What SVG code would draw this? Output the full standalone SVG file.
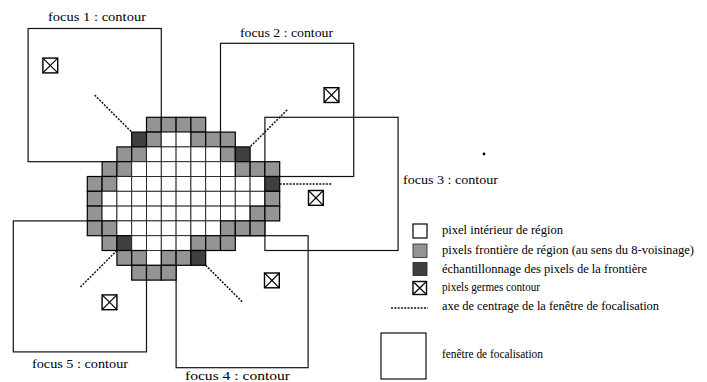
<svg xmlns="http://www.w3.org/2000/svg" xmlns:xlink="http://www.w3.org/1999/xlink" width="707" height="382" viewBox="0 0 707 382">
<style>
  .win{fill:none;stroke:#111;stroke-width:1.2}
  .w{fill:#fff;stroke:#222;stroke-width:0.9}
  .g{fill:#949494;stroke:#000;stroke-width:1.2}
  .d{fill:#404040;stroke:#000;stroke-width:1.2}
  .axis{fill:none;stroke:#111;stroke-width:1.5;stroke-dasharray:2 1.3}
  .lbl{font-family:"Liberation Serif","Times New Roman",serif;font-size:13px;fill:#000}
  .leg{font-family:"Liberation Serif","Times New Roman",serif;font-size:12px;fill:#000}
  .seedbox{fill:#fff;stroke:#000;stroke-width:1.4}
  .seedx{stroke:#000;stroke-width:1.2}
</style>
<defs>
  <rect id="cw" class="w" width="14.8" height="14.8"/>
  <rect id="cg" class="g" width="14.8" height="14.8"/>
  <rect id="cd" class="d" width="14.8" height="14.8"/>
  <g id="seed">
    <rect class="seedbox" x="0" y="0" width="14.8" height="14.8"/>
    <path class="seedx" d="M0,0L14.8,14.8M14.8,0L0,14.8"/>
  </g>
</defs>
<rect width="707" height="382" fill="#fff"/>

<g id="focus1">
  <rect class="win" x="28.1" y="28.5" width="133.2" height="133.2"/>
  <use xlink:href="#seed" x="42.9" y="58.1"/>
  <text class="lbl" x="48" y="21" textLength="98" lengthAdjust="spacingAndGlyphs">focus 1 : contour</text>
</g>
<g id="focus2">
  <rect class="win" x="220.5" y="43.3" width="133.2" height="133.2"/>
  <use xlink:href="#seed" x="324.1" y="87.7"/>
  <text class="lbl" x="240" y="37" textLength="93" lengthAdjust="spacingAndGlyphs">focus 2 : contour</text>
</g>
<g id="focus3">
  <rect class="win" x="264.9" y="117.3" width="133.2" height="133.2"/>
  <use xlink:href="#seed" x="308.5" y="190.5"/>
  <text class="lbl" x="403" y="184" textLength="95" lengthAdjust="spacingAndGlyphs">focus 3 : contour</text>
</g>
<g id="focus4">
  <rect class="win" x="176.1" y="235.7" width="132" height="132"/>
  <use xlink:href="#seed" x="264.5" y="273"/>
  <text class="lbl" x="185" y="380" textLength="105" lengthAdjust="spacingAndGlyphs">focus 4 : contour</text>
</g>
<g id="focus5">
  <rect class="win" x="13.3" y="220.9" width="133.2" height="131"/>
  <use xlink:href="#seed" x="102.1" y="294.9"/>
  <text class="lbl" x="32" y="368" textLength="96" lengthAdjust="spacingAndGlyphs">focus 5 : contour</text>
</g>

<g id="region">
  <!-- row 0 -->
  <use xlink:href="#cg" x="146.5" y="117.3"/><use xlink:href="#cg" x="161.3" y="117.3"/><use xlink:href="#cg" x="176.1" y="117.3"/><use xlink:href="#cg" x="190.9" y="117.3"/>
  <!-- row 1 -->
  <use xlink:href="#cd" x="131.7" y="132.1"/><use xlink:href="#cg" x="146.5" y="132.1"/><use xlink:href="#cw" x="161.3" y="132.1"/><use xlink:href="#cw" x="176.1" y="132.1"/><use xlink:href="#cg" x="190.9" y="132.1"/><use xlink:href="#cg" x="205.7" y="132.1"/><use xlink:href="#cg" x="220.5" y="132.1"/>
  <!-- row 2 -->
  <use xlink:href="#cg" x="116.9" y="146.9"/><use xlink:href="#cg" x="131.7" y="146.9"/><use xlink:href="#cw" x="146.5" y="146.9"/><use xlink:href="#cw" x="161.3" y="146.9"/><use xlink:href="#cw" x="176.1" y="146.9"/><use xlink:href="#cw" x="190.9" y="146.9"/><use xlink:href="#cw" x="205.7" y="146.9"/><use xlink:href="#cg" x="220.5" y="146.9"/><use xlink:href="#cd" x="235.3" y="146.9"/>
  <!-- row 3 -->
  <use xlink:href="#cg" x="102.1" y="161.7"/><use xlink:href="#cg" x="116.9" y="161.7"/><use xlink:href="#cw" x="131.7" y="161.7"/><use xlink:href="#cw" x="146.5" y="161.7"/><use xlink:href="#cw" x="161.3" y="161.7"/><use xlink:href="#cw" x="176.1" y="161.7"/><use xlink:href="#cw" x="190.9" y="161.7"/><use xlink:href="#cw" x="205.7" y="161.7"/><use xlink:href="#cw" x="220.5" y="161.7"/><use xlink:href="#cg" x="235.3" y="161.7"/><use xlink:href="#cg" x="250.1" y="161.7"/><use xlink:href="#cg" x="264.9" y="161.7"/>
  <!-- row 4 -->
  <use xlink:href="#cg" x="87.3" y="176.5"/><use xlink:href="#cg" x="102.1" y="176.5"/><use xlink:href="#cw" x="116.9" y="176.5"/><use xlink:href="#cw" x="131.7" y="176.5"/><use xlink:href="#cw" x="146.5" y="176.5"/><use xlink:href="#cw" x="161.3" y="176.5"/><use xlink:href="#cw" x="176.1" y="176.5"/><use xlink:href="#cw" x="190.9" y="176.5"/><use xlink:href="#cw" x="205.7" y="176.5"/><use xlink:href="#cw" x="220.5" y="176.5"/><use xlink:href="#cw" x="235.3" y="176.5"/><use xlink:href="#cw" x="250.1" y="176.5"/><use xlink:href="#cd" x="264.9" y="176.5"/>
  <!-- row 5 -->
  <use xlink:href="#cg" x="87.3" y="191.3"/><use xlink:href="#cw" x="102.1" y="191.3"/><use xlink:href="#cw" x="116.9" y="191.3"/><use xlink:href="#cw" x="131.7" y="191.3"/><use xlink:href="#cw" x="146.5" y="191.3"/><use xlink:href="#cw" x="161.3" y="191.3"/><use xlink:href="#cw" x="176.1" y="191.3"/><use xlink:href="#cw" x="190.9" y="191.3"/><use xlink:href="#cw" x="205.7" y="191.3"/><use xlink:href="#cw" x="220.5" y="191.3"/><use xlink:href="#cw" x="235.3" y="191.3"/><use xlink:href="#cw" x="250.1" y="191.3"/><use xlink:href="#cg" x="264.9" y="191.3"/>
  <!-- row 6 -->
  <use xlink:href="#cg" x="87.3" y="206.1"/><use xlink:href="#cw" x="102.1" y="206.1"/><use xlink:href="#cw" x="116.9" y="206.1"/><use xlink:href="#cw" x="131.7" y="206.1"/><use xlink:href="#cw" x="146.5" y="206.1"/><use xlink:href="#cw" x="161.3" y="206.1"/><use xlink:href="#cw" x="176.1" y="206.1"/><use xlink:href="#cw" x="190.9" y="206.1"/><use xlink:href="#cw" x="205.7" y="206.1"/><use xlink:href="#cw" x="220.5" y="206.1"/><use xlink:href="#cw" x="235.3" y="206.1"/><use xlink:href="#cg" x="250.1" y="206.1"/><use xlink:href="#cg" x="264.9" y="206.1"/>
  <!-- row 7 -->
  <use xlink:href="#cg" x="87.3" y="220.9"/><use xlink:href="#cg" x="102.1" y="220.9"/><use xlink:href="#cw" x="116.9" y="220.9"/><use xlink:href="#cw" x="131.7" y="220.9"/><use xlink:href="#cw" x="146.5" y="220.9"/><use xlink:href="#cw" x="161.3" y="220.9"/><use xlink:href="#cw" x="176.1" y="220.9"/><use xlink:href="#cw" x="190.9" y="220.9"/><use xlink:href="#cw" x="205.7" y="220.9"/><use xlink:href="#cg" x="220.5" y="220.9"/><use xlink:href="#cg" x="235.3" y="220.9"/><use xlink:href="#cg" x="250.1" y="220.9"/>
  <!-- row 8 -->
  <use xlink:href="#cg" x="102.1" y="235.7"/><use xlink:href="#cd" x="116.9" y="235.7"/><use xlink:href="#cw" x="131.7" y="235.7"/><use xlink:href="#cw" x="146.5" y="235.7"/><use xlink:href="#cw" x="161.3" y="235.7"/><use xlink:href="#cw" x="176.1" y="235.7"/><use xlink:href="#cg" x="190.9" y="235.7"/><use xlink:href="#cg" x="205.7" y="235.7"/><use xlink:href="#cg" x="220.5" y="235.7"/>
  <!-- row 9 -->
  <use xlink:href="#cg" x="116.9" y="250.5"/><use xlink:href="#cg" x="131.7" y="250.5"/><use xlink:href="#cw" x="146.5" y="250.5"/><use xlink:href="#cg" x="161.3" y="250.5"/><use xlink:href="#cg" x="176.1" y="250.5"/><use xlink:href="#cd" x="190.9" y="250.5"/>
  <!-- row 10 -->
  <use xlink:href="#cg" x="131.7" y="265.3"/><use xlink:href="#cg" x="146.5" y="265.3"/><use xlink:href="#cg" x="161.3" y="265.3"/>
</g>

<g id="connectors">
  <line class="axis" x1="94.7" y1="95.1" x2="131.7" y2="132.1"/>
  <line class="axis" x1="287.1" y1="109.9" x2="250.1" y2="146.9"/>
  <line class="axis" x1="279.7" y1="183.9" x2="331.5" y2="183.9"/>
  <line class="axis" x1="205.7" y1="265.3" x2="242.7" y2="302.3"/>
  <line class="axis" x1="116.9" y1="250.5" x2="79.9" y2="287.5"/>
</g>

<circle cx="484" cy="154" r="1.4" fill="#000"/>

<g id="legend">
  <g id="leg-interior">
    <rect x="413" y="224" width="14" height="14" fill="#fff" stroke="#000" stroke-width="1.2"/>
    <text class="leg" x="442" y="234" textLength="121" lengthAdjust="spacingAndGlyphs">pixel intérieur de région</text>
  </g>
  <g id="leg-frontier">
    <rect x="413" y="244" width="14" height="13.5" fill="#949494" stroke="#222" stroke-width="0.8"/>
    <text class="leg" x="442" y="254" textLength="252" lengthAdjust="spacingAndGlyphs">pixels frontière de région (au sens du 8-voisinage)</text>
  </g>
  <g id="leg-sample">
    <rect x="413" y="262.5" width="14" height="13" fill="#404040" stroke="#222" stroke-width="0.8"/>
    <text class="leg" x="442" y="273" textLength="205" lengthAdjust="spacingAndGlyphs">échantillonnage des pixels de la frontière</text>
  </g>
  <g id="leg-seed">
    <rect class="seedbox" x="413" y="281.5" width="13.5" height="13"/>
    <path class="seedx" d="M413,281.5L426.5,294.5M426.5,281.5L413,294.5"/>
    <text class="leg" x="442" y="291" textLength="98" lengthAdjust="spacingAndGlyphs">pixels germes contour</text>
  </g>
  <g id="leg-axis">
    <line class="axis" x1="391" y1="308" x2="428" y2="308" stroke-width="1"/>
    <text class="leg" x="442" y="310" textLength="217" lengthAdjust="spacingAndGlyphs">axe de centrage de la fenêtre de focalisation</text>
  </g>
  <g id="leg-window">
    <rect x="381" y="333" width="45" height="46" fill="none" stroke="#111" stroke-width="1.2"/>
    <text class="leg" x="442" y="358" textLength="101" lengthAdjust="spacingAndGlyphs">fenêtre de focalisation</text>
  </g>
</g>
</svg>
